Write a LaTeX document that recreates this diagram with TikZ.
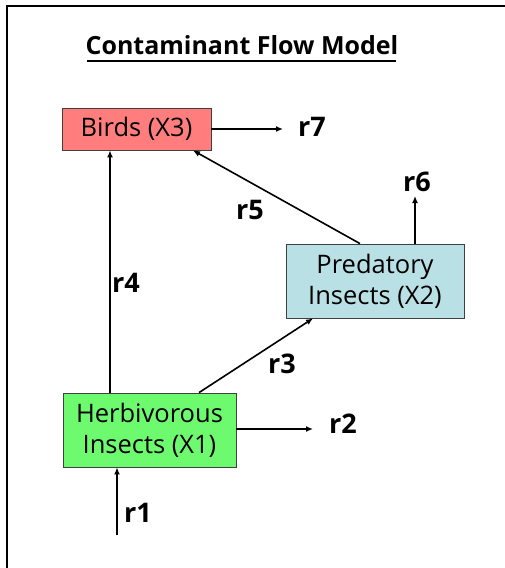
\documentclass[tikz,border=0pt]{standalone}
\usepackage{fontspec}
\setmainfont{Open Sans}
\usetikzlibrary{arrows.meta}
\definecolor{birdfill}{RGB}{255,125,125}
\definecolor{predfill}{RGB}{185,224,228}
\definecolor{herbfill}{RGB}{110,250,110}
\begin{document}
\begin{tikzpicture}[x=1pt,y=-1pt,
  box/.style={draw=black!75,line width=0.8pt,inner sep=0pt,align=center,font=\fontsize{25.5}{31}\selectfont},
  flow/.style={line width=1.6pt,-{Latex[length=7pt,width=6pt]}},
  lab/.style={font=\fontsize{27}{30}\selectfont\bfseries,inner sep=0pt}]
\useasboundingbox (0,0) rectangle (505,568);
\draw[line width=2.5pt] (7,568) -- (7,6) -- (505,6);
\node[font=\fontsize{25}{28}\selectfont\bfseries,inner sep=0pt] (title) at (242,45) {Contaminant Flow Model};
\draw[line width=1.6pt] (87,61) -- (396,61);
\node[box,fill=birdfill,minimum width=149pt,minimum height=42pt] (birds) at (136.5,129) {Birds (X3)};
\node[box,fill=predfill,minimum width=178pt,minimum height=74pt] (pred) at (375,281) {Predatory\\Insects (X2)};
\node[box,fill=herbfill,minimum width=173pt,minimum height=74pt] (herb) at (149.5,430) {Herbivorous\\Insects (X1)};
\coordinate (e7) at (283,129);
\coordinate (e6) at (415,196);
\coordinate (e2) at (313,429);
\coordinate (s1) at (117,535);
\draw[flow] (birds.east) -- (e7);
\draw[flow] (pred.north -| e6) -- (e6);
\draw[flow] (pred.north -| 360,0) -- (birds.south -| 193,0);
\draw[flow] (herb.north -| 110,0) -- (birds.south -| 110,0);
\draw[flow] (herb.north -| 199,0) -- (pred.south -| 313,0);
\draw[flow] (herb.east |- e2) -- (e2);
\draw[flow] (s1) -- (herb.south -| s1);
\node[lab] (r7) at (312,127) {r7};
\node[lab] (r6) at (417,182) {r6};
\node[lab] (r5) at (250,210) {r5};
\node[lab] (r4) at (126,283) {r4};
\node[lab] (r3) at (282,364) {r3};
\node[lab] (r2) at (343,424) {r2};
\node[lab] (r1) at (138,513) {r1};
\end{tikzpicture}
\end{document}
